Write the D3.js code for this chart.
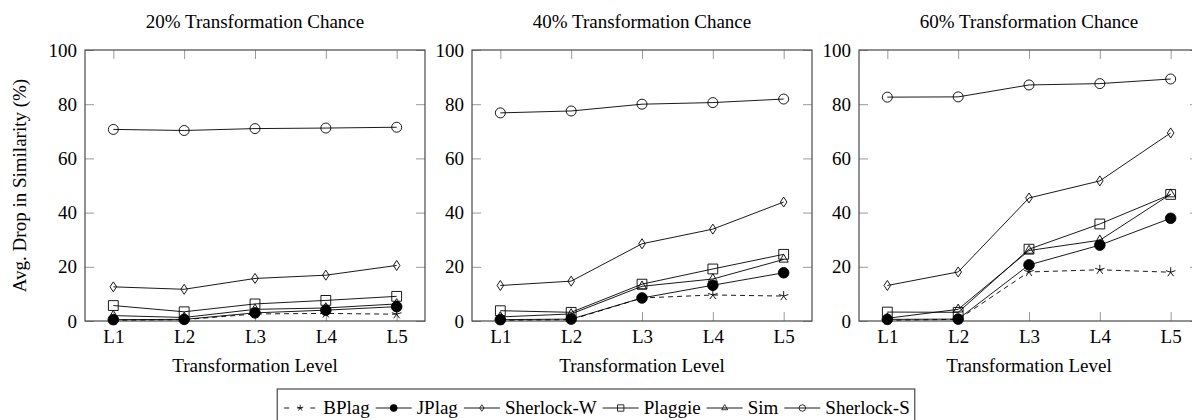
<!DOCTYPE html>
<html>
<head>
<meta charset="utf-8">
<script src="https://cdn.jsdelivr.net/npm/d3@7"></script>
<style>
  body { margin: 0; background: #fff; }
  svg { display: block; font-family: "Liberation Serif", "DejaVu Serif", serif; }
</style>
</head>
<body>
<svg id="chart" width="1192" height="420"></svg>
<script>
// categories and ticks
const levels = ["L1", "L2", "L3", "L4", "L5"];
const yTicks = [0, 20, 40, 60, 80, 100];
const titles = ["20% Transformation Chance", "40% Transformation Chance", "60% Transformation Chance"];
const tools = ["BPlag", "JPlag", "Sherlock-W", "Plaggie", "Sim", "Sherlock-S"];

// one row per panel (20%, 40%, 60%)
const bplag = [
  [0.3, 0.5, 2.6, 2.8, 2.5],
  [0.3, 0.5, 8.5, 9.6, 9.2],
  [0.3, 0.6, 18.1, 18.9, 18.0]
];
const jplag = [
  [0.5, 0.6, 3.0, 4.0, 5.3],
  [0.5, 0.7, 8.5, 13.2, 17.8],
  [0.6, 0.7, 20.7, 28.0, 37.9]
];
const sherlockW = [
  [12.6, 11.7, 15.7, 16.9, 20.5],
  [13.1, 14.7, 28.5, 33.9, 43.9],
  [13.1, 18.1, 45.4, 51.7, 69.4]
];
const plaggie = [
  [5.7, 3.4, 6.3, 7.6, 9.1],
  [3.8, 3.2, 13.6, 19.2, 24.6],
  [3.3, 3.2, 26.5, 35.8, 46.7]
];
const sim = [
  [2.0, 1.3, 4.3, 4.8, 6.3],
  [1.5, 2.6, 12.8, 15.5, 22.7],
  [1.0, 4.3, 26.0, 29.8, 46.8]
];
const sherlockS = [
  [70.7, 70.3, 71.0, 71.2, 71.5],
  [76.8, 77.5, 80.0, 80.6, 81.9],
  [82.6, 82.7, 87.1, 87.6, 89.3]
];
const seriesData = [bplag, jplag, sherlockW, plaggie, sim, sherlockS];

// marker paths, scaled by k
function markerPath(tool, k) {
  switch (tool) {
    case "BPlag": { // 5-arm star
      let p = "";
      for (let i = 0; i < 5; i++) {
        const a = -Math.PI / 2 + i * 2 * Math.PI / 5;
        p += `M0,0L${(5 * k * Math.cos(a)).toFixed(2)},${(5 * k * Math.sin(a)).toFixed(2)}`;
      }
      return p;
    }
    case "JPlag":
    case "Sherlock-S": {
      const r = (tool === "JPlag" ? 5.3 : 5) * k;
      return `M${r},0A${r},${r} 0 1,1 ${-r},0A${r},${r} 0 1,1 ${r},0Z`;
    }
    case "Sherlock-W":
      return `M0,${-5 * k}L${3.3 * k},0L0,${5 * k}L${-3.3 * k},0Z`;
    case "Plaggie": {
      const s = 4.9 * k;
      return `M${-s},${-s}H${s}V${s}H${-s}Z`;
    }
    case "Sim": {
      const r = 5.3 * k;
      return `M0,${-r}L${r * 0.866},${r * 0.5}L${-r * 0.866},${r * 0.5}Z`;
    }
  }
}

const svg = d3.select("#chart");
const fontSize = 19;
const panelLeft = [85, 472, 859];
const panelW = 340;
const plotTop = 50, plotBottom = 321;
const frameColor = "#4a4a4a", tickColor = "#9a9a9a";

const y = d3.scaleLinear().domain([0, 100]).range([plotBottom, plotTop]);

titles.forEach((title, pi) => {
  const x = d3.scalePoint().domain(levels).range([0, panelW]).padding(0.4);
  const g = svg.append("g").attr("transform", `translate(${panelLeft[pi]},0)`);

  // ticks inside the frame on all four sides
  const bx = g.append("g").attr("transform", `translate(0,${plotBottom})`)
    .call(d3.axisBottom(x).tickSizeInner(-9).tickSizeOuter(0).tickPadding(8));
  const tx = g.append("g").attr("transform", `translate(0,${plotTop})`)
    .call(d3.axisTop(x).tickSizeInner(-9).tickSizeOuter(0).tickFormat(""));
  const ly = g.append("g")
    .call(d3.axisLeft(y).tickValues(yTicks).tickSizeInner(-9).tickSizeOuter(0).tickPadding(8));
  const ry = g.append("g").attr("transform", `translate(${panelW},0)`)
    .call(d3.axisRight(y).tickValues(yTicks).tickSizeInner(-9).tickSizeOuter(0).tickFormat(""));
  [bx, tx, ly, ry].forEach(a => {
    a.select(".domain").remove();
    a.selectAll(".tick line").attr("stroke", tickColor).attr("stroke-width", 1);
    a.selectAll(".tick text").attr("fill", "#000").style("font-size", fontSize + "px")
      .style("font-family", "Liberation Serif, serif");
  });
  bx.selectAll(".tick text").attr("dy", "0.75em");

  g.append("rect")
    .attr("x", 0).attr("y", plotTop)
    .attr("width", panelW).attr("height", plotBottom - plotTop)
    .attr("fill", "none").attr("stroke", frameColor).attr("stroke-width", 1.2);

  // series
  const line = d3.line().x((d, i) => x(levels[i])).y(d => y(d));
  tools.forEach((tool, si) => {
    const vals = seriesData[si][pi];
    g.append("path")
      .attr("d", line(vals))
      .attr("fill", "none")
      .attr("stroke", "#000")
      .attr("stroke-width", 0.9)
      .attr("stroke-dasharray", tool === "BPlag" ? "5,4" : null);
    g.selectAll(null).data(vals).enter().append("path")
      .attr("transform", (d, i) => `translate(${x(levels[i])},${y(d)})`)
      .attr("d", markerPath(tool, 1))
      .attr("fill", tool === "JPlag" ? "#000" : "none")
      .attr("stroke", "#000")
      .attr("stroke-width", 0.9);
  });

  // title and x label
  g.append("text")
    .attr("x", panelW / 2).attr("y", 28)
    .attr("text-anchor", "middle")
    .style("font-size", fontSize + "px")
    .text(title);
  g.append("text")
    .attr("x", panelW / 2).attr("y", 372)
    .attr("text-anchor", "middle")
    .style("font-size", fontSize + "px")
    .text("Transformation Level");
});

svg.append("text")
  .attr("transform", `translate(26,${(plotTop + plotBottom) / 2}) rotate(-90)`)
  .attr("text-anchor", "middle")
  .style("font-size", fontSize + "px")
  .text("Avg. Drop in Similarity (%)");

// legend
const legend = svg.append("g");
const sampleW = 36, gap = 5, pad = 5;
let cx = 0;
tools.forEach(tool => {
  const item = legend.append("g").attr("transform", `translate(${cx},0)`);
  item.append("line")
    .attr("x1", 0).attr("x2", sampleW)
    .attr("stroke", "#000").attr("stroke-width", 0.9)
    .attr("stroke-dasharray", tool === "BPlag" ? "5,8" : null)
    .attr("stroke-dashoffset", tool === "BPlag" ? -2 : null);
  item.append("path")
    .attr("transform", `translate(${sampleW / 2},0)`)
    .attr("d", markerPath(tool, 0.65))
    .attr("fill", tool === "JPlag" ? "#000" : "none")
    .attr("stroke", "#000").attr("stroke-width", 0.8);
  const t = item.append("text")
    .attr("x", sampleW + gap).attr("dy", "0.33em")
    .style("font-size", fontSize + "px")
    .text(tool);
  cx += sampleW + gap + t.node().getComputedTextLength() + gap + 1;
});
const legendW = cx - gap - 1 + pad * 2;
const legendX = 596 - legendW / 2;
legend.attr("transform", `translate(${legendX + pad},${408})`);
svg.insert("rect", "g")
  .attr("x", legendX).attr("y", 389)
  .attr("width", legendW).attr("height", 40)
  .attr("fill", "#fff").attr("stroke", frameColor).attr("stroke-width", 1.2);
</script>
</body>
</html>
